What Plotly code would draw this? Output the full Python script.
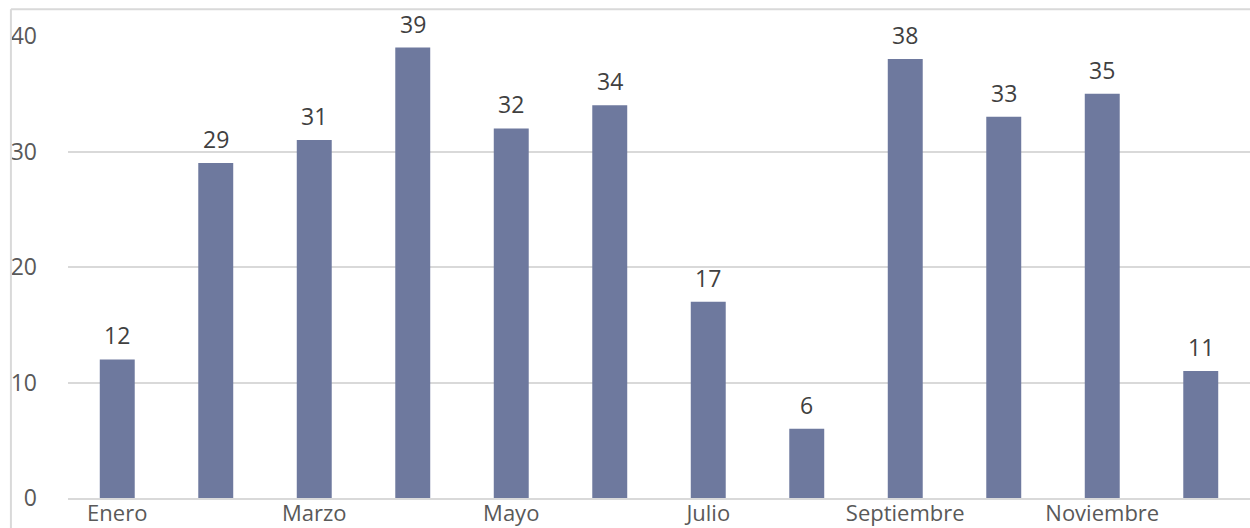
import plotly.graph_objects as go

meses = ["Enero", "Febrero", "Marzo", "Abril", "Mayo", "Junio",
         "Julio", "Agosto", "Septiembre", "Octubre", "Noviembre", "Diciembre"]
valores = [12, 29, 31, 39, 32, 34, 17, 6, 38, 33, 35, 11]
ticks_y = [0, 10, 20, 30, 40]

fuente = "'Open Sans', sans-serif"
gris_linea = "#D9D9D9"

fig = go.Figure(
    go.Bar(
        x=meses,
        y=valores,
        marker=dict(color="#6E799E", line=dict(width=0)),
        hoverinfo="x+y",
    )
)

# Etiquetas de valor encima de cada barra
anotaciones = [
    dict(x=m, y=v, text=str(v), xref="x", yref="y",
         showarrow=False, yanchor="bottom", yshift=6,
         font=dict(family=fuente, size=23, color="#404040"))
    for m, v in zip(meses, valores)
]

fig.update_layout(
    width=1250,
    height=528,
    margin=dict(l=68, r=0, t=36, b=30),
    paper_bgcolor="white",
    plot_bgcolor="white",
    bargap=0.645,
    showlegend=False,
    font=dict(family=fuente, color="#595959"),
    annotations=anotaciones,
    xaxis=dict(
        tickmode="array",
        tickvals=meses[::2],
        ticktext=meses[::2],
        tickfont=dict(size=22, color="#595959"),
        showgrid=False,
        showline=True,
        linecolor=gris_linea,
        linewidth=2,
        ticks="",
        ticklabelstandoff=-5,
        automargin=False,
    ),
    yaxis=dict(
        range=[0, 40],
        tickvals=ticks_y,
        tickfont=dict(size=23, color="#595959"),
        showgrid=True,
        gridcolor=gris_linea,
        gridwidth=2,
        zeroline=False,
        showline=False,
        ticks="",
        ticklabelstandoff=30,
        automargin=False,
    ),
    shapes=[
        dict(type="line", xref="paper", yref="paper",
             x0=-0.0483, x1=1.01, y0=1.058, y1=1.058,
             line=dict(color=gris_linea, width=2)),
        dict(type="line", xref="paper", yref="paper",
             x0=-0.0483, x1=-0.0483, y0=1.058, y1=-0.1,
             line=dict(color=gris_linea, width=2)),
    ],
)

fig.write_html("out.html")
